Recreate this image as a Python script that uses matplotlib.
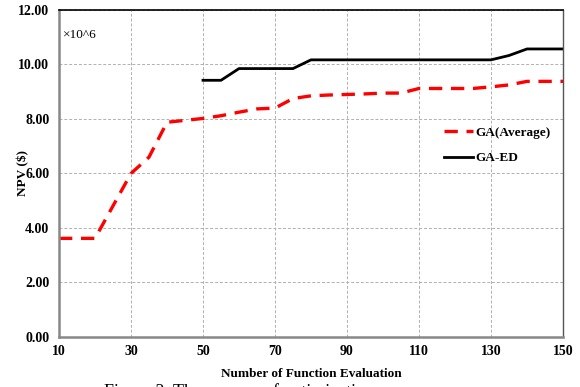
import matplotlib.pyplot as plt

# ── data ─────────────────────────────────────────────────────────────────────
ga_avg_x = [10, 15, 20, 30, 35, 40, 45, 50, 55, 60, 65, 70, 75, 80, 85, 90,
            95, 100, 105, 110, 115, 120, 125, 130, 135, 140, 145, 150]
ga_avg_y = [3.62, 3.62, 3.62, 6.00, 6.60, 7.88, 7.95, 8.02, 8.12, 8.25, 8.37,
            8.40, 8.75, 8.85, 8.88, 8.90, 8.92, 8.95, 8.95, 9.12, 9.12, 9.12,
            9.12, 9.18, 9.25, 9.38, 9.38, 9.38]

ga_ed_x = [50, 55, 60, 65, 70, 75, 80, 85, 90, 95, 100, 105, 110, 115, 120,
           125, 130, 135, 140, 145, 150]
ga_ed_y = [9.42, 9.42, 9.85, 9.85, 9.85, 9.85, 10.17, 10.17, 10.17, 10.17,
           10.17, 10.17, 10.17, 10.17, 10.17, 10.17, 10.17, 10.33, 10.57,
           10.57, 10.57]

x_ticks = [10, 30, 50, 70, 90, 110, 130, 150]
y_ticks = [0, 2, 4, 6, 8, 10, 12]

plt.rcParams['font.family'] = ['Liberation Serif', 'DejaVu Serif']

fig = plt.figure(figsize=(5.8, 3.87), dpi=100)
ax = fig.add_axes([0.1017, 0.1292, 0.869, 0.845])

ax.plot(ga_avg_x, ga_avg_y, color='#ff0000', lw=2.4, dashes=(4, 2.6),
        label='GA(Average)')
ax.plot(ga_ed_x, ga_ed_y, color='black', lw=2.0, label='GA-ED')

ax.set_xlim(10, 150)
ax.set_ylim(0, 12)
ax.set_xticks(x_ticks)
ax.set_yticks(y_ticks)
ax.set_yticklabels([f"{v:.2f}" for v in y_ticks])
ax.tick_params(axis='x', length=0, labelsize=10, pad=6)
ax.tick_params(axis='y', length=0, labelsize=10, pad=7)
for lbl in ax.get_xticklabels() + ax.get_yticklabels():
    lbl.set_fontweight('bold')

ax.grid(True, color='#b0b0b0', linestyle=(0, (3, 2)), lw=0.7)

for side in ('left', 'bottom'):
    ax.spines[side].set_color('#888888')
    ax.spines[side].set_linewidth(1.8)
ax.spines['top'].set_color('black')
ax.spines['top'].set_linewidth(1.2)
ax.spines['right'].set_color('#555555')
ax.spines['right'].set_linewidth(1.0)

ax.set_xlabel('Number of Function Evaluation', fontsize=9.5,
              fontweight='bold')
ax.xaxis.set_label_coords(0.5, -0.095)
ax.set_ylabel('NPV ($)', fontsize=9.5, fontweight='bold')
ax.yaxis.set_label_coords(-0.058, 0.5)

ax.text(0.007, 0.925, '\u00d710^6', transform=ax.transAxes, fontsize=9.5,
        va='center', ha='left')

ax.legend(loc='upper left', bbox_to_anchor=(0.74, 0.68), frameon=False,
          prop={'weight': 'bold', 'size': 9.5},
          handlelength=2.2, handletextpad=0.2, labelspacing=1.0)

# caption of the source figure, cut off by the lower edge as in the reference
fig.text(0.18, -0.013, 'Figure 3. The process of optimization', fontsize=13,
         va='center', ha='left')

fig.savefig('out.png', dpi=100)
